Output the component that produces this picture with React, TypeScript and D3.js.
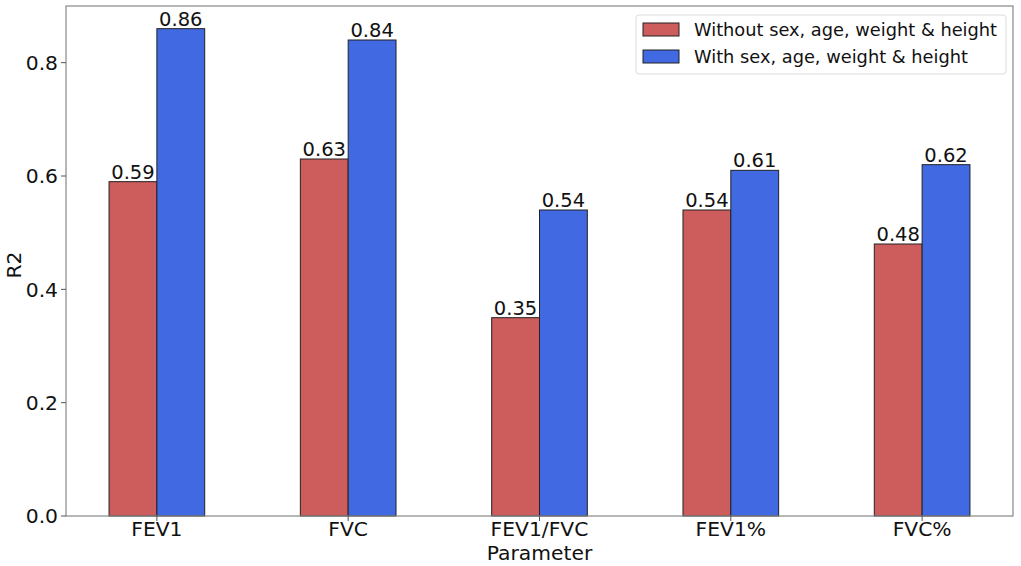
import React from "react";
import * as d3 from "d3";

const categories = ["FEV1", "FVC", "FEV1/FVC", "FEV1%", "FVC%"];
const withoutVals = [0.59, 0.63, 0.35, 0.54, 0.48];
const withVals = [0.86, 0.84, 0.54, 0.61, 0.62];
const seriesNames = ["Without sex, age, weight & height", "With sex, age, weight & height"];
const seriesColors = ["#CD5C5C", "#4169E1"];
const yTicks = [0.0, 0.2, 0.4, 0.6, 0.8];

const W = 1021, H = 566;
const L = 66, R = 1013, T = 6, B = 516;
const FONT = "DejaVu Sans, sans-serif";

export default function App() {
  const x = d3.scaleLinear().domain([-0.475, 4.475]).range([L, R]);
  const y = d3.scaleLinear().domain([0, 0.9]).range([B, T]);
  const bw = 0.25;
  const series = [withoutVals, withVals];
  return (
    <svg width={W} height={H} style={{ position: "absolute", left: 0, top: 0 }} fontFamily={FONT}>
      <rect x={0} y={0} width={W} height={H} fill="#fff" />
      {series.map((vals, si) =>
        vals.map((v, i) => {
          const x0 = x(i + (si === 0 ? -bw : 0));
          const x1 = x(i + (si === 0 ? 0 : bw));
          return (
            <g key={`${si}-${i}`}>
              <rect x={x0} y={y(v)} width={x1 - x0} height={B - y(v)} fill={seriesColors[si]} stroke="#222" strokeWidth={1} />
              <text x={(x0 + x1) / 2} y={y(v) - 3} textAnchor="middle" fontSize={19.5} fill="#111">{v.toFixed(2)}</text>
            </g>
          );
        })
      )}
      <rect x={L} y={T} width={R - L} height={B - T} fill="none" stroke="#888" strokeWidth={1.2} />
      {yTicks.map((t) => (
        <g key={t}>
          <line x1={L - 5} x2={L} y1={y(t)} y2={y(t)} stroke="#555" />
          <text x={L - 8} y={y(t)} dy="0.36em" textAnchor="end" fontSize={20.3} fill="#111">{t.toFixed(1)}</text>
        </g>
      ))}
      {categories.map((c, i) => (
        <g key={c}>
          <line x1={x(i)} x2={x(i)} y1={B} y2={B + 5} stroke="#555" />
          <text x={x(i)} y={B + 20} textAnchor="middle" fontSize={20.3} fill="#111">{c}</text>
        </g>
      ))}
      <text x={(L + R) / 2} y={560} textAnchor="middle" fontSize={20.3} fill="#111">Parameter</text>
      <text transform={`translate(21,265) rotate(-90)`} textAnchor="middle" fontSize={20.3} fill="#111">R2</text>
      <g>
        <rect x={636} y={15} width={370} height={59} rx={3} fill="#fff" stroke="#ddd" />
        {seriesNames.map((n, i) => (
          <g key={n}>
            <rect x={643} y={23 + i * 27} width={36} height={13} fill={seriesColors[i]} stroke="#222" />
            <text x={694} y={29.5 + i * 27} dy="0.35em" fontSize={17.8} fill="#111">{n}</text>
          </g>
        ))}
      </g>
    </svg>
  );
}
